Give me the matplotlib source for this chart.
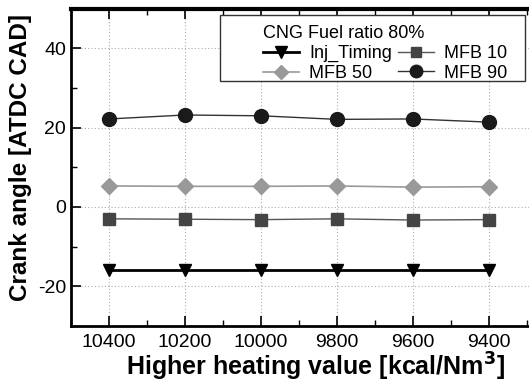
import numpy as np
import matplotlib
matplotlib.use("Agg")
import matplotlib.pyplot as plt
from matplotlib.ticker import MultipleLocator
from matplotlib.patches import Rectangle

plt.rcParams['font.family'] = ['Liberation Sans', 'DejaVu Sans']
plt.rcParams['axes.unicode_minus'] = False

# heating value (x) and crank angles per series
hhv = [10400, 10200, 10000, 9800, 9600, 9400]
inj_timing = [-16.0, -16.0, -16.0, -16.0, -16.0, -16.0]
mfb_10 = [-3.0, -3.1, -3.2, -3.0, -3.3, -3.2]
mfb_50 = [5.3, 5.2, 5.2, 5.3, 5.0, 5.1]
mfb_90 = [22.2, 23.2, 23.0, 22.1, 22.2, 21.4]

fig = plt.figure(figsize=(5.29, 3.82), dpi=100)
# the original figure is cropped on the right, so the axes run past the edge
ax = fig.add_axes([0.134, 0.147, 0.934, 0.830])

l_inj, = ax.plot(hhv, inj_timing, color="black", lw=2.0, marker="v", ms=9, label="Inj_Timing")
l_10, = ax.plot(hhv, mfb_10, color="#555555", lw=1.0, marker="s", ms=8,
                mfc="#444444", mec="#444444", label="MFB 10")
l_50, = ax.plot(hhv, mfb_50, color="#999999", lw=1.2, marker="D", ms=8,
                mfc="#999999", mec="#999999", label="MFB 50")
l_90, = ax.plot(hhv, mfb_90, color="#333333", lw=1.0, marker="o", ms=10,
                mfc="#1a1a1a", mec="#1a1a1a", label="MFB 90")

ax.set_xlim(10500, 9200)
ax.set_ylim(-30, 50)
ax.set_xticks(hhv)
ax.xaxis.set_minor_locator(MultipleLocator(100))
ax.yaxis.set_major_locator(MultipleLocator(20))
ax.yaxis.set_minor_locator(MultipleLocator(10))
ax.tick_params(which="both", direction="in", top=True, labelsize=14)
ax.tick_params(which="major", length=7, width=1.2)
ax.tick_params(which="minor", length=4, width=1.0)
ax.tick_params(axis="x", pad=6)
ax.grid(True, which="major", ls=(0, (1, 2)), color="#aaaaaa", lw=0.8)

ax.spines["top"].set_linewidth(3)
ax.spines["left"].set_linewidth(2)
ax.spines["bottom"].set_linewidth(2)

ax.set_xlabel("Higher heating value [kcal/Nm$^\\mathbf{3}$]", fontsize=18, fontweight="bold")
ax.xaxis.set_label_coords(0.496, -0.08)
ax.set_ylabel("Crank angle [ATDC CAD]", fontsize=17.5, fontweight="bold")
ax.yaxis.set_label_coords(-0.079, 0.53)

# legend frame drawn separately (wide left padding in the original)
ax.add_patch(Rectangle((0.302, 0.773), 0.617, 0.208, transform=ax.transAxes,
                       facecolor="white", edgecolor="#333333", lw=1.0, zorder=4))
leg = ax.legend([l_inj, l_50, l_10, l_90], ["Inj_Timing", "MFB 50", "MFB 10", "MFB 90"],
                loc="upper left", bbox_to_anchor=(0.389, 0.948), ncol=2,
                title="CNG Fuel ratio 80%", fontsize=13, title_fontsize=13,
                frameon=False, borderaxespad=0, borderpad=0,
                handlelength=2.0, handletextpad=0.55, markerscale=0.9,
                columnspacing=0.35, labelspacing=0.15)
leg._legend_box.align = "left"
leg.set_zorder(5)

fig.savefig("out.png", dpi=100)
